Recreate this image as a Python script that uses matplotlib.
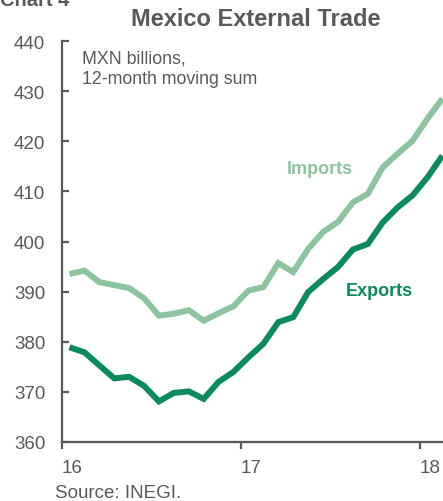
import matplotlib
matplotlib.use("Agg")
import matplotlib.pyplot as plt
import numpy as np

plt.rcParams['font.family'] = ['Liberation Sans', 'DejaVu Sans']

# Monthly data, Jan 2016 .. Feb 2018 (MXN billions, 12-month moving sum)
months = ["2016-01", "2016-02", "2016-03", "2016-04", "2016-05", "2016-06",
          "2016-07", "2016-08", "2016-09", "2016-10", "2016-11", "2016-12",
          "2017-01", "2017-02", "2017-03", "2017-04", "2017-05", "2017-06",
          "2017-07", "2017-08", "2017-09", "2017-10", "2017-11", "2017-12",
          "2018-01", "2018-02"]
imports = [393.5, 394.2, 391.9, 391.3, 390.7, 388.7, 385.2, 385.6, 386.3,
           384.2, 385.7, 387.1, 390.2, 390.9, 395.7, 393.9, 398.5, 401.9,
           403.9, 407.8, 409.5, 414.8, 417.5, 420.1, 424.5, 428.5]
exports = [378.9, 377.9, 375.3, 372.7, 373.0, 371.2, 368.1, 369.8, 370.1,
           368.6, 372.0, 374.0, 376.9, 379.6, 383.9, 384.9, 389.9, 392.5,
           394.9, 398.4, 399.5, 403.8, 406.8, 409.2, 412.8, 417.1]
xticks = [16, 17, 18]
xticklabels = ["16", "17", "18"]
yticks = [360, 370, 380, 390, 400, 410, 420, 430, 440]

# position of each month (mid-month) in "year" units
x = np.array([int(m[2:4]) + (int(m[5:7]) - 0.5) / 12 for m in months])

gray = '#595959'
c_imp = '#8cc4a0'
c_exp = '#0b8a5b'

W, H = 443, 502
fig = plt.figure(figsize=(W / 100, H / 100), dpi=100)
ax = fig.add_axes([62 / W, 1 - 443 / H, 1 - 62 / W, (443 - 42) / H])

ax.plot(x, imports, color=c_imp, lw=4.3, solid_capstyle='butt', solid_joinstyle='miter')
ax.plot(x, exports, color=c_exp, lw=4.3, solid_capstyle='butt', solid_joinstyle='miter')

ax.set_xlim(16, 16 + 381 / 179)
ax.set_ylim(360, 440)
ax.set_yticks(yticks)
ax.set_xticks(xticks)
ax.set_xticklabels(xticklabels, ha='left')

for s in ['top', 'right']:
    ax.spines[s].set_visible(False)
for s in ['left', 'bottom']:
    ax.spines[s].set_color(gray)
    ax.spines[s].set_linewidth(1.6)

ax.tick_params(axis='y', direction='in', length=5, width=1.6, color=gray,
               labelcolor=gray, labelsize=13.5, pad=12)
ax.tick_params(axis='x', direction='out', length=5, width=1.6, color=gray,
               labelcolor=gray, labelsize=13.5, pad=7)

ax.text(82 / W, 1 - 50 / H, "MXN billions,\n12-month moving sum",
        transform=fig.transFigure, ha='left', va='top', fontsize=12.8,
        color=gray, linespacing=1.32)

ax.text(320 / W, 1 - 170 / H, "Imports", transform=fig.transFigure, fontsize=13,
        fontweight='bold', color=c_imp, ha='center', va='center')
ax.text(379 / W, 1 - 292 / H, "Exports", transform=fig.transFigure, fontsize=13,
        fontweight='bold', color=c_exp, ha='center', va='center')

fig.text(256 / W, 1 - 20 / H, "Mexico External Trade", ha='center', va='center',
         fontsize=17, fontweight='bold', color=gray)
fig.text(0 / W, 1 - 0 / H, "Chart 4", ha='left', va='center', fontsize=14.5,
         fontweight='bold', color=gray)
fig.text(55 / W, 1 - 494 / H, "Source: INEGI.", ha='left', va='center',
         fontsize=13.5, color=gray)

fig.savefig("out.png", dpi=100)
